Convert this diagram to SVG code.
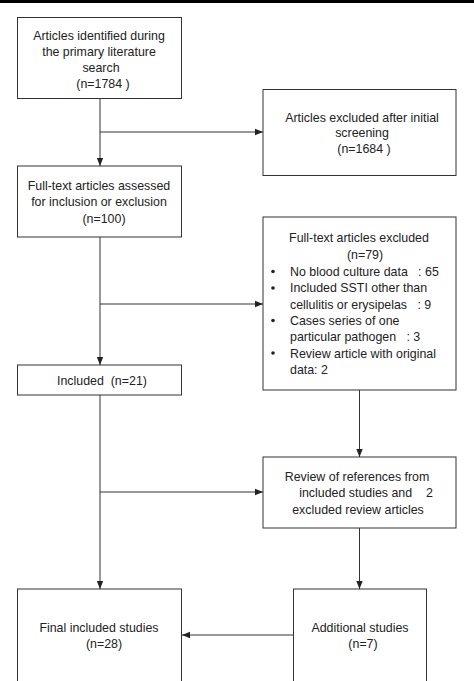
<svg xmlns="http://www.w3.org/2000/svg" width="474" height="681" viewBox="0 0 474 681">
<style>
.box{fill:#fff;stroke:#333;stroke-width:1}
.ln{fill:none;stroke:#333;stroke-width:1}
text{font-family:"Liberation Sans",Arial,sans-serif;font-size:12.4px;fill:#222}
.c{text-anchor:middle}
</style>
<defs>
<marker id="ah" viewBox="0 0 8 8" refX="8" refY="4" markerWidth="8" markerHeight="8" markerUnits="userSpaceOnUse" orient="auto">
<path d="M0,0.8 L8,4 L0,7.2 z" fill="#222"/>
</marker>
</defs>
<rect x="0" y="0" width="474" height="3" fill="#000"/>
<g id="connectors">
<line class="ln" x1="100" y1="99" x2="100" y2="166" marker-end="url(#ah)"/>
<line class="ln" x1="100" y1="132" x2="263" y2="132" marker-end="url(#ah)"/>
<line class="ln" x1="100" y1="237" x2="100" y2="365" marker-end="url(#ah)"/>
<line class="ln" x1="100" y1="304" x2="263" y2="304" marker-end="url(#ah)"/>
<line class="ln" x1="359.5" y1="390" x2="359.5" y2="457" marker-end="url(#ah)"/>
<line class="ln" x1="100" y1="395" x2="100" y2="589" marker-end="url(#ah)"/>
<line class="ln" x1="100" y1="492" x2="263" y2="492" marker-end="url(#ah)"/>
<line class="ln" x1="359.5" y1="528" x2="359.5" y2="589" marker-end="url(#ah)"/>
<line class="ln" x1="293" y1="635" x2="182" y2="635" marker-end="url(#ah)"/>
</g>
<g id="n1">
<rect class="box" x="17.5" y="17.5" width="164" height="81"/>
<text class="c" x="99" y="39.5">Articles identified during</text>
<text class="c" x="99" y="56">the primary literature</text>
<text class="c" x="101" y="71.5">search</text>
<text class="c" x="103" y="87.5">(n=1784 )</text>
</g>
<g id="n2">
<rect class="box" x="263" y="89.5" width="193" height="86"/>
<text class="c" x="362" y="121.5">Articles excluded after initial</text>
<text class="c" x="362" y="137">screening</text>
<text class="c" x="364" y="152.5">(n=1684 )</text>
</g>
<g id="n3">
<rect class="box" x="17.5" y="166" width="164" height="71"/>
<text class="c" x="99" y="189.5">Full-text articles assessed</text>
<text class="c" x="99" y="206">for inclusion or exclusion</text>
<text class="c" x="104" y="222.5">(n=100)</text>
</g>
<g id="n4">
<rect class="box" x="263" y="217" width="193" height="173"/>
<text class="c" x="359" y="241.5">Full-text articles excluded</text>
<text class="c" x="365" y="259">(n=79)</text>
<circle cx="273" cy="271.5" r="1.8" fill="#222"/>
<circle cx="273" cy="288" r="1.8" fill="#222"/>
<circle cx="273" cy="320.5" r="1.8" fill="#222"/>
<circle cx="273" cy="353" r="1.8" fill="#222"/>
<text x="290" y="275.5" xml:space="preserve">No blood culture data   : 65</text>
<text x="290" y="292">Included SSTI other than</text>
<text x="290" y="308.5" xml:space="preserve">cellulitis or erysipelas   : 9</text>
<text x="290" y="324.5">Cases series of one</text>
<text x="290" y="341" xml:space="preserve">particular pathogen   : 3</text>
<text x="290" y="357.5">Review article with original</text>
<text x="290" y="374">data: 2</text>
</g>
<g id="n5">
<rect class="box" x="17.5" y="365" width="164" height="30"/>
<text x="57" y="384.5" xml:space="preserve">Included  (n=21)</text>
</g>
<g id="n6">
<rect class="box" x="263" y="457" width="193" height="71"/>
<text class="c" x="357" y="480.5">Review of references from</text>
<text class="c" x="366" y="497" xml:space="preserve">included studies and    2</text>
<text class="c" x="358" y="513.5">excluded review articles</text>
</g>
<g id="n7">
<rect class="box" x="17.5" y="589" width="164" height="100"/>
<text class="c" x="99" y="631.5">Final included studies</text>
<text class="c" x="104" y="648">(n=28)</text>
</g>
<g id="n8">
<rect class="box" x="293.5" y="589" width="133" height="100"/>
<text class="c" x="360" y="631.5">Additional studies</text>
<text class="c" x="363" y="648">(n=7)</text>
</g>
</svg>
